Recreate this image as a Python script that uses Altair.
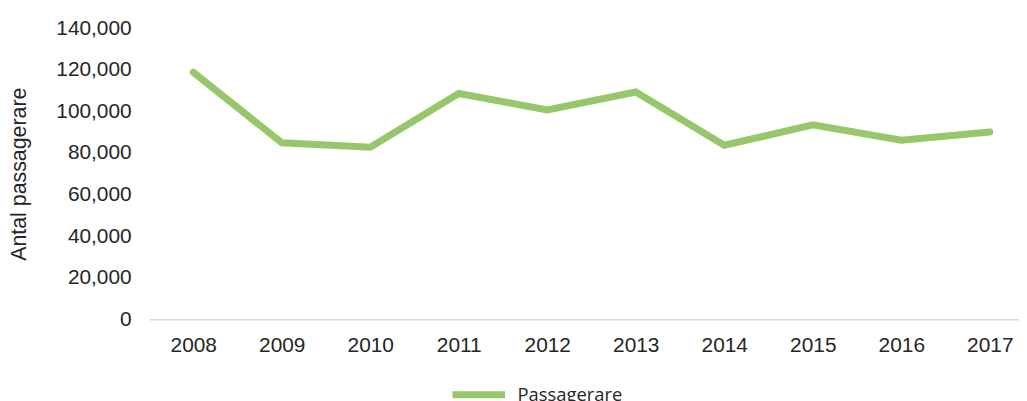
import altair as alt
import pandas as pd

years = [2008, 2009, 2010, 2011, 2012, 2013, 2014, 2015, 2016, 2017]
passengers = [118800, 84900, 82800, 108600, 100700, 109300, 83700, 93500, 86100, 90100]
series_name = "Passagerare"

df = pd.DataFrame({"year": years, "value": passengers, "series": [series_name] * len(years)})

FONT = "Liberation Sans"
TXT = "#262626"

chart = alt.Chart(df).mark_line(strokeWidth=7, strokeCap="round", strokeJoin="miter").encode(
    x=alt.X("year:Q",
            scale=alt.Scale(domain=[2007.5, 2017.33], nice=False, zero=False),
            axis=alt.Axis(values=years, format="d", title=None, grid=False, ticks=False,
                          domainColor="#D9D9D9", domainWidth=1.5, labelFontSize=21,
                          labelFont=FONT, labelColor=TXT, labelPadding=16, labelFlush=False)),
    y=alt.Y("value:Q",
            scale=alt.Scale(domain=[0, 140000], nice=False),
            axis=alt.Axis(values=[0, 20000, 40000, 60000, 80000, 100000, 120000, 140000],
                          format=",.0f", title="Antal passagerare", grid=False, ticks=False,
                          domain=False, labelFontSize=21, labelFont=FONT, labelColor=TXT,
                          labelPadding=18, titleFontSize=21.5, titleFont=FONT, titleColor=TXT,
                          titleFontWeight="normal", titlePadding=25)),
    color=alt.Color("series:N",
                    scale=alt.Scale(domain=[series_name], range=["#97C66B"]),
                    legend=alt.Legend(title=None, orient="none", legendX=302, legendY=339,
                                      symbolType="stroke", symbolSize=2809, symbolStrokeWidth=7,
                                      labelFont="Open Sans", labelFontSize=18.5, labelColor=TXT,
                                      labelOffset=9)),
).properties(
    width=876, height=293,
    autosize=alt.AutoSizeParams(type="none"),
    padding={"left": 142, "top": 19, "right": 0, "bottom": 81},
).configure_view(stroke=None)

chart.save("out.html", embed_options={"renderer": "svg", "actions": False})
